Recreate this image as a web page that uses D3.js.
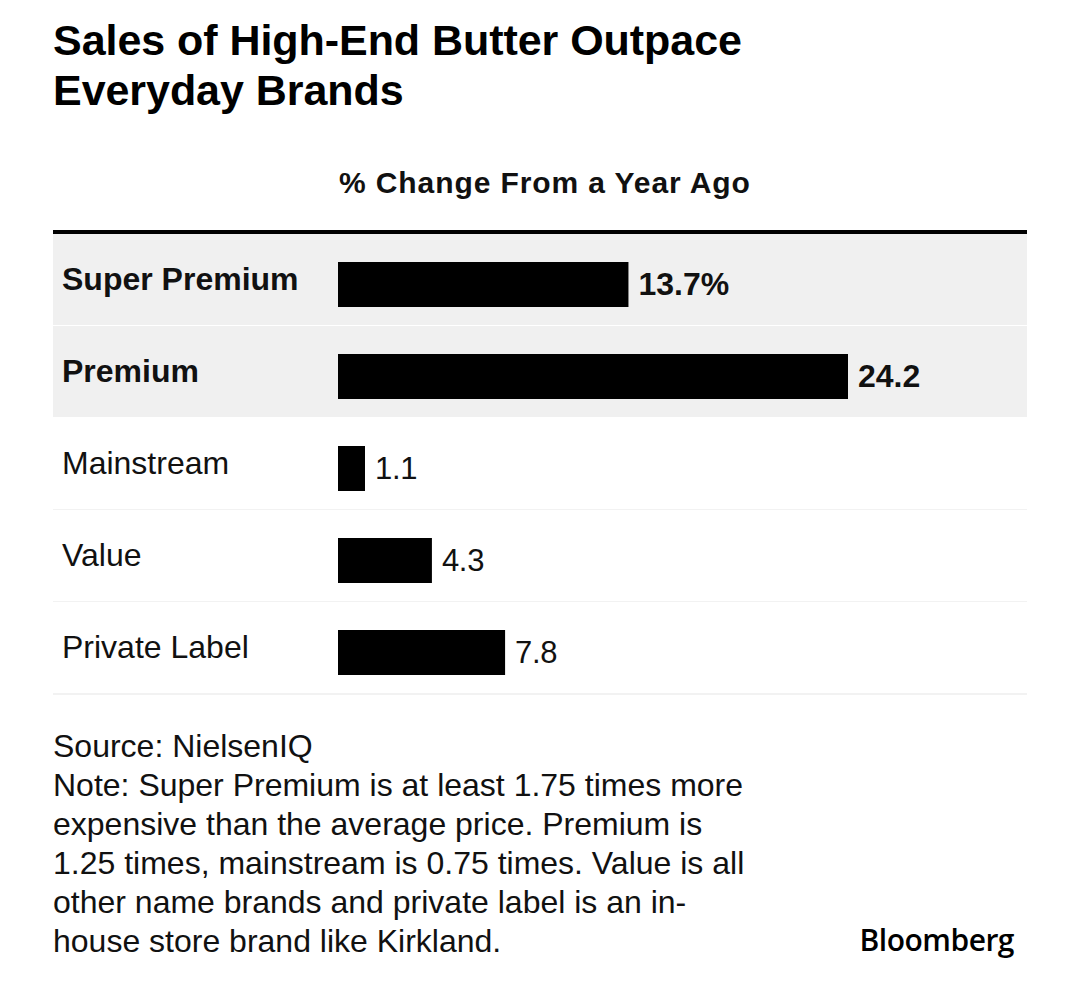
<!DOCTYPE html>
<html>
<head>
<meta charset="utf-8">
<script src="https://cdn.jsdelivr.net/npm/d3@7"></script>
<style>
  html, body { margin: 0; padding: 0; background: #fff; }
  svg { display: block; font-family: "Liberation Sans", Arial, Helvetica, sans-serif; }
</style>
</head>
<body>
<svg id="chart" width="1079" height="1008"></svg>
<script>
// ---- Data ----
const titleLines = ["Sales of High-End Butter Outpace", "Everyday Brands"];
const subtitle = "% Change From a Year Ago";
const categories = ["Super Premium", "Premium", "Mainstream", "Value", "Private Label"];
const values = [13.7, 24.2, 1.1, 4.3, 7.8];
const valueLabels = ["13.7%", "24.2", "1.1", "4.3", "7.8"];
const highlighted = [true, true, false, false, false];
const footerLines = [
  "Source: NielsenIQ",
  "Note: Super Premium is at least 1.75 times more",
  "expensive than the average price. Premium is",
  "1.25 times, mainstream is 0.75 times. Value is all",
  "other name brands and private label is an in-",
  "house store brand like Kirkland."
];
const brand = "Bloomberg";

// ---- Layout ----
const svg = d3.select("#chart");
const left = 53, right = 1027;
const barX0 = 338;
const tableTop = 234, tableBottom = 694;

const textColor = "#111";

// Title
svg.append("g").selectAll("text").data(titleLines).join("text")
  .attr("x", left)
  .attr("y", (d, i) => 55 + i * 50)
  .attr("font-size", 43)
  .attr("font-weight", 700)
  .attr("letter-spacing", "-0.05px")
  .attr("fill", "#000")
  .text(d => d);

// Subtitle
svg.append("text")
  .attr("x", barX0 + 1)
  .attr("y", 193)
  .attr("font-size", 30)
  .attr("font-weight", 700)
  .attr("letter-spacing", "0.9px")
  .attr("fill", textColor)
  .text(subtitle);

// Scales
const y = d3.scaleBand().domain(categories).range([tableTop, tableBottom]);
const w = d3.scaleLinear().domain([0, d3.max(values)]).range([4, 510]);

const rows = svg.append("g").selectAll("g.row")
  .data(categories.map((c, i) => ({ c, v: values[i], lab: valueLabels[i], hi: highlighted[i] })))
  .join("g").attr("class", "row")
  .attr("transform", d => `translate(0,${y(d.c)})`);

// row backgrounds
rows.append("rect")
  .attr("x", left).attr("y", 0)
  .attr("width", right - left).attr("height", y.bandwidth())
  .attr("fill", d => d.hi ? "#f0f0f0" : "#fff");

// row separators
rows.append("rect")
  .attr("x", left).attr("y", y.bandwidth() - 1)
  .attr("width", right - left).attr("height", 2)
  .attr("fill", d => d.hi ? "#fff" : "#f2f2f2");

// bars
rows.append("rect")
  .attr("x", barX0).attr("y", 28)
  .attr("width", d => w(d.v)).attr("height", 45)
  .attr("fill", "#000");

// category labels
rows.append("text")
  .attr("x", 62).attr("y", 56)
  .attr("font-size", 32)
  .attr("font-weight", d => d.hi ? 700 : 400)
  .attr("fill", textColor)
  .text(d => d.c);

// value labels
rows.append("text")
  .attr("x", d => barX0 + w(d.v) + 10).attr("y", 61)
  .attr("font-size", d => d.hi ? 32 : 31)
  .attr("font-weight", d => d.hi ? 700 : 400)
  .attr("letter-spacing", d => d.hi ? "0px" : "-0.3px")
  .attr("fill", textColor)
  .text(d => d.lab);

// thick top rule
svg.append("rect")
  .attr("x", left).attr("y", 230)
  .attr("width", right - left).attr("height", 4)
  .attr("fill", "#000");

// Footer
svg.append("g").selectAll("text").data(footerLines).join("text")
  .attr("x", left)
  .attr("y", (d, i) => 757 + i * 39)
  .attr("font-size", 32)
  .attr("fill", textColor)
  .text(d => d);

// Brand
svg.append("text")
  .attr("x", 1014).attr("y", 951)
  .attr("text-anchor", "end")
  .attr("font-family", "'Open Sans', sans-serif")
  .attr("font-size", 30)
  .attr("font-weight", 600)
  .attr("letter-spacing", "-0.5px")
  .attr("fill", "#000")
  .text(brand);
</script>
</body>
</html>
